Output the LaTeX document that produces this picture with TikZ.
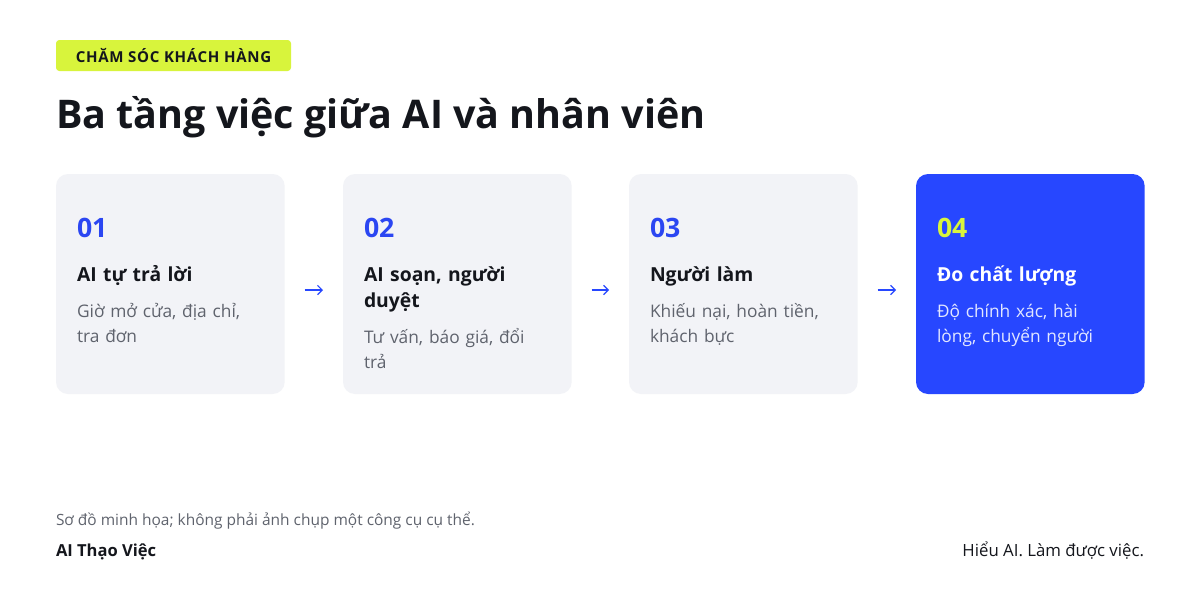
\documentclass[tikz,border=0pt]{standalone}
\usepackage{fontspec}
\setmainfont{Open Sans}
\usetikzlibrary{arrows.meta}
\definecolor{lime}{HTML}{D8F43C}
\definecolor{cardbg}{HTML}{F2F3F7}
\definecolor{blueA}{HTML}{2747FF}
\definecolor{numblue}{HTML}{2B46F2}
\definecolor{ink}{HTML}{14161C}
\definecolor{greytxt}{HTML}{5F636D}
\definecolor{paletxt}{HTML}{E2E7FF}
\tikzset{
  every node/.style={inner sep=0pt, outer sep=0pt},
  card/.style={rounded corners=9pt, minimum width=171.5pt, minimum height=165pt, anchor=north west},
  num/.style={anchor=base west, font=\fontsize{20pt}{25pt}\selectfont\bfseries, text=numblue},
  head/.style={anchor=base west, text width=155pt, align=left, font=\fontsize{14.5pt}{19.5pt}\selectfont\bfseries, text=ink},
  desc/.style={anchor=base west, text width=160pt, align=left, font=\fontsize{13pt}{18.75pt}\selectfont, text=greytxt},
  flow/.style={draw=blueA, line width=0.9pt, -{Straight Barb[length=3.5pt,width=7pt,line width=0.9pt]}, shorten <=15pt, shorten >=15pt}
}
\begin{document}
\begin{tikzpicture}[x=0.75pt,y=-0.75pt]
\useasboundingbox[fill=white] (0,0) rectangle (1200,600);
% tag
\node[fill=lime, rounded corners=2.5pt, minimum width=176.25pt, minimum height=23.25pt, anchor=north west] (tag) at (56,40) {};
\node[font=\fontsize{11.3pt}{12pt}\selectfont\bfseries\addfontfeatures{LetterSpace=4.5}, text=ink] (tagtxt) at (tag.center) {CHĂM SÓC KHÁCH HÀNG};
% title
\node[anchor=base west, font=\fontsize{29.6pt}{38pt}\selectfont\bfseries, text=ink] (title) at (56,128) {Ba tầng việc giữa AI và nhân viên};
% cards
\node[card, fill=cardbg] (c1) at (56,174) {};
\node[card, fill=cardbg] (c2) at (343,174) {};
\node[card, fill=cardbg] (c3) at (629,174) {};
\node[card, fill=blueA] (c4) at (916,174) {};
% card 1
\node[num] (n1) at (77,237) {01};
\node[head] (h1) at (77,281) {AI tự trả lời};
\node[desc] (d1) at (77,317) {Giờ mở cửa, địa chỉ,\\tra đơn};
% card 2
\node[num] (n2) at (364,237) {02};
\node[head] (h2) at (364,281) {AI soạn, người\\duyệt};
\node[desc] (d2) at (364,343) {Tư vấn, báo giá, đổi\\trả};
% card 3
\node[num] (n3) at (650,237) {03};
\node[head] (h3) at (650,281) {Người làm};
\node[desc] (d3) at (650,317) {Khiếu nại, hoàn tiền,\\khách bực};
% card 4
\node[num, text=lime] (n4) at (937,237) {04};
\node[head, text=white] (h4) at (937,281) {Đo chất lượng};
\node[desc, text=paletxt] (d4) at (937,317) {Độ chính xác, hài\\lòng, chuyển người};
% arrows
\draw[flow] ([yshift=-4.5pt]c1.east) -- ([yshift=-4.5pt]c2.west);
\draw[flow] ([yshift=-4.5pt]c2.east) -- ([yshift=-4.5pt]c3.west);
\draw[flow] ([yshift=-4.5pt]c3.east) -- ([yshift=-4.5pt]c4.west);
% footer
\node[anchor=base west, font=\fontsize{11.6pt}{12pt}\selectfont, text=greytxt] (note) at (56,525) {Sơ đồ minh họa; không phải ảnh chụp một công cụ cụ thể.};
\node[anchor=base west, font=\fontsize{12.4pt}{13pt}\selectfont\bfseries, text=ink] (brand) at (56,556) {AI Thạo Việc};
\node[anchor=base east, font=\fontsize{12.6pt}{13pt}\selectfont, text=ink] (slogan) at (1144,556) {Hiểu AI. Làm được việc.};
\end{tikzpicture}
\end{document}
